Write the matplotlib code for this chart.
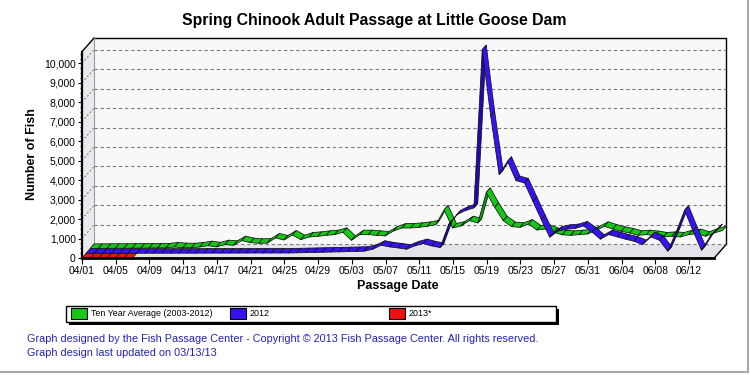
import numpy as np
import matplotlib
matplotlib.use('Agg')
import matplotlib.pyplot as plt
from matplotlib.patches import Polygon, Rectangle
from matplotlib.collections import PolyCollection
from matplotlib.lines import Line2D

plt.rcParams['font.family'] = ['Liberation Sans', 'DejaVu Sans']

# ---------------- data ----------------
tick_labels = ['04/01', '04/05', '04/09', '04/13', '04/17', '04/21', '04/25', '04/29',
               '05/03', '05/07', '05/11', '05/15', '05/19', '05/23', '05/27', '05/31',
               '06/04', '06/08', '06/12']
n_days = 76  # 04/01 .. 06/15

ten_year_avg = [20, 25, 25, 30, 30, 35, 35, 40, 45, 50,
                94, 60, 55, 94, 163, 100, 214, 180, 420, 317,
                283, 290, 557, 454, 710, 471, 608, 642, 693, 728,
                848, 437, 728, 728, 693, 660, 916, 1070, 1070, 1104,
                1156, 1241, 2000, 1070, 1172, 1447, 1326, 2900, 2130, 1447,
                1140, 1104, 1275, 967, 1017, 848, 720, 693, 728, 762,
                934, 1156, 1017, 899, 813, 693, 728, 678, 608, 642,
                608, 728, 780, 642, 813, 934]

y2012 = [5, 5, 5, 5, 5, 8, 8, 8, 10, 10,
         10, 12, 12, 12, 15, 15, 15, 15, 18, 18,
         20, 20, 20, 20, 20, 30, 40, 50, 60, 70,
         80, 90, 100, 113, 214, 420, 334, 282, 214, 385,
         505, 385, 300, 1480, 1994, 2200, 2337, 10470, 7062, 4047,
         4734, 3740, 3620, 2680, 1736, 832, 1150, 1241, 1276, 1412,
         1104, 728, 966, 848, 728, 625, 454, 848, 677, 113,
         1100, 2218, 1150, 163, 848, 1276]

y2013 = [0, 0, 0, 0, 0, 0, 0]

series_names = ['Ten Year Average (2003-2012)', '2012', '2013*']
series_colors = ['#16c816', '#3414f4', '#f01010']
series_dark = ['#0e9a0e', '#2308b0', '#b00808']

# ---------------- figure geometry ----------------
W, H = 750, 375
fig = plt.figure(figsize=(W / 100, H / 100), dpi=100)
fig.patch.set_facecolor('white')

px_left, px_right, px_bottom, px_top = 82, 714.3, 258, 51.7
ax = fig.add_axes([px_left / W, 1 - px_bottom / H,
                   (px_right - px_left) / W, (px_bottom - px_top) / H])
xmax = n_days - 1
ymax = 10600
ax.set_xlim(0, xmax)
ax.set_ylim(0, ymax)
ax.patch.set_visible(False)

sx = (px_right - px_left) / xmax      # px per day
sy = (px_bottom - px_top) / ymax      # px per fish
DXP, DYP = 12.0, 13.7                 # depth in pixels
ddx, ddy = DXP / sx, DYP / sy         # depth in data units

# back wall, floor, side wall
ax.add_patch(Polygon([(0, 0), (0, ymax), (ddx, ymax + ddy), (ddx, ddy)],
                     closed=True, facecolor='#e9e9ee', edgecolor='none', zorder=0.5, clip_on=False))
ax.add_patch(Polygon([(0, 0), (xmax, 0), (xmax + ddx, ddy), (ddx, ddy)],
                     closed=True, facecolor='#e3e3ea', edgecolor='none', zorder=0.5, clip_on=False))
ax.add_patch(Rectangle((ddx, ddy), xmax, ymax, facecolor='#f8f8f8', edgecolor='none',
                       zorder=0.4, clip_on=False))
# wall edges
ax.plot([ddx, xmax + ddx, xmax + ddx], [ymax + ddy, ymax + ddy, ddy], color='black', lw=1.0,
        clip_on=False, zorder=0.8)
ax.plot([0, ddx], [ymax, ymax + ddy], color='black', lw=1.0, clip_on=False, zorder=0.8)
ax.plot([ddx, ddx], [ddy, ymax + ddy], color='#9a9a9a', lw=0.8, clip_on=False, zorder=0.8)
ax.plot([xmax, xmax + ddx], [0, ddy], color='black', lw=1.0, clip_on=False, zorder=0.8)

# gridlines
for v in range(0, 10001, 1000):
    ax.plot([ddx, xmax + ddx], [v + ddy, v + ddy], color='#7a7a7a', lw=0.8,
            dashes=(3, 2.5), clip_on=False, zorder=0.9)
    if v > 0:
        ax.plot([0, ddx], [v, v + ddy], color='#7a7a7a', lw=0.7,
                dashes=(2, 2), clip_on=False, zorder=0.9)

# ribbons
slices = [(0.67, 1.0), (0.335, 0.665), (0.0, 0.33)]
all_series = [ten_year_avg, y2012, y2013]
order = [0, 1, 2]  # back to front
for k in order:
    vals = np.asarray(all_series[k], dtype=float)
    days = np.arange(len(vals))
    f0, f1 = slices[k]
    polys, cols = [], []
    for i in range(len(vals) - 1):
        xa, xb = days[i], days[i + 1]
        ya, yb = vals[i], vals[i + 1]
        quad = [(xa + f0 * ddx, ya + f0 * ddy), (xb + f0 * ddx, yb + f0 * ddy),
                (xb + f1 * ddx, yb + f1 * ddy), (xa + f1 * ddx, ya + f1 * ddy)]
        polys.append(quad)
        dxp, dyp = (xb - xa) * sx, (yb - ya) * sy
        cross = dxp * DYP - dyp * DXP
        cols.append(series_colors[k] if cross >= 0 else series_dark[k])
    pc = PolyCollection(polys, facecolors=cols, edgecolors='#111111', linewidths=0.55,
                        clip_on=False, zorder=2 + k)
    ax.add_collection(pc)

# axes / ticks
for s in ['top', 'right']:
    ax.spines[s].set_visible(False)
ax.spines['left'].set_linewidth(1.6)
ax.spines['bottom'].set_linewidth(2.0)
ax.spines['left'].set_zorder(6)
ax.spines['bottom'].set_zorder(6)
yt = list(range(0, 10001, 1000))
ax.set_yticks(yt)
ax.set_yticklabels([f'{v:,}' for v in yt], fontsize=7.5)
ax.set_yticks(np.arange(0, 10600, 250), minor=True)
xt = list(range(0, 73, 4))
ax.set_xticks(xt)
ax.set_xticklabels(tick_labels, fontsize=7.5)
ax.tick_params(axis='y', which='major', length=3, width=0.8, pad=1.5)
ax.tick_params(axis='y', which='minor', length=1.5, width=0.6)
ax.tick_params(axis='x', which='major', length=4, width=0.8, pad=2)

# titles
fig.text(374 / W, 1 - 20 / H, 'Spring Chinook Adult Passage at Little Goose Dam',
         ha='center', va='center', fontsize=11.4, fontweight='bold')
fig.text(32 / W, 1 - 154 / H, 'Number of Fish', rotation=90, ha='center', va='center',
         fontsize=9, fontweight='bold')
fig.text(398 / W, 1 - 286.5 / H, 'Passage Date', ha='center', va='center',
         fontsize=9, fontweight='bold')

# legend (manual, chart-style)
def fx(p):
    return p / W

def fy(p):
    return 1 - p / H

fig.patches.append(Rectangle((fx(69), fy(325)), fx(559) - fx(69), fy(309) - fy(325),
                             transform=fig.transFigure, facecolor='black', edgecolor='none'))
fig.patches.append(Rectangle((fx(66), fy(322)), fx(556) - fx(66), fy(306) - fy(322),
                             transform=fig.transFigure, facecolor='white', edgecolor='black', lw=1))
leg_x = [71, 230, 389]
for k in range(3):
    fig.patches.append(Rectangle((fx(leg_x[k]), fy(319)), 16 / W, 11 / H,
                                 transform=fig.transFigure, facecolor=series_colors[k],
                                 edgecolor='black', lw=0.8))
    fig.text(fx(leg_x[k] + 20), fy(313.5), series_names[k], ha='left', va='center', fontsize=6.4)

# footer
fig.text(fx(27), fy(339), 'Graph designed by the Fish Passage Center - Copyright \u00a9 2013 Fish Passage Center. All rights reserved.',
         ha='left', va='center', fontsize=7.8, color='#2323b4')
fig.text(fx(27), fy(353.5), 'Graph design last updated on 03/13/13',
         ha='left', va='center', fontsize=7.8, color='#2323b4')

# window border
fig.lines.append(Line2D([fx(748), fx(748)], [fy(0), fy(372)], transform=fig.transFigure,
                        color='#a8a8a8', lw=1.5))
fig.lines.append(Line2D([fx(0), fx(748)], [fy(372), fy(372)], transform=fig.transFigure,
                        color='#a8a8a8', lw=1.5))

fig.savefig('out.png', dpi=100)
